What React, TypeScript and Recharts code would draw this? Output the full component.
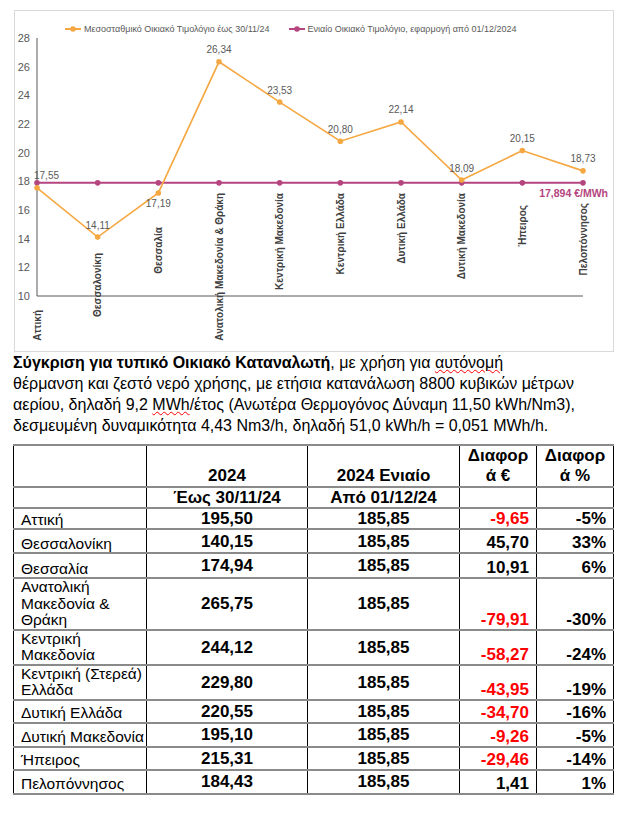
import { LineChart, Line, XAxis, YAxis, Legend, LabelList } from "recharts";

// chart values (€/MWh)
const REGIONS = [
  "Αττική",
  "Θεσσαλονίκη",
  "Θεσσαλία",
  "Ανατολική Μακεδονία & Θράκη",
  "Κεντρική Μακεδονία",
  "Κεντρική Ελλάδα",
  "Δυτική Ελλάδα",
  "Δυτική Μακεδονία",
  "Ήπειρος",
  "Πελοπόννησος",
];
const AVG_TARIFF = [17.55, 14.11, 17.19, 26.34, 23.53, 20.8, 22.14, 18.09, 20.15, 18.73];
const UNIFIED_TARIFF = 17.894;
const Y_TICKS = [10, 12, 14, 16, 18, 20, 22, 24, 26, 28];

// table values (€ / year)
const TABLE_REGIONS = [
  "Αττική",
  "Θεσσαλονίκη",
  "Θεσσαλία",
  "Ανατολική\nΜακεδονία &\nΘράκη",
  "Κεντρική\nΜακεδονία",
  "Κεντρική (Στερεά)\nΕλλάδα",
  "Δυτική Ελλάδα",
  "Δυτική Μακεδονία",
  "Ήπειρος",
  "Πελοπόννησος",
];
const COST_OLD = [195.5, 140.15, 174.94, 265.75, 244.12, 229.8, 220.55, 195.1, 215.31, 184.43];
const COST_UNIFIED = [185.85, 185.85, 185.85, 185.85, 185.85, 185.85, 185.85, 185.85, 185.85, 185.85];
const DIFF_EUR = [-9.65, 45.7, 10.91, -79.91, -58.27, -43.95, -34.7, -9.26, -29.46, 1.41];
const DIFF_PCT = [-5, 33, 6, -30, -24, -19, -16, -5, -14, 1];

const ORANGE = "#F5A742";
const PURPLE = "#B5457F";
const GREY = "#595959";
const FONT = "'Liberation Sans', Arial, sans-serif";

// vertical shift of each rotated region label from the axis line
const TICK_SHIFT = [14, -43, -69, -103, -103, -103, -103, -103, -91, -93];
const ROW_HEIGHTS = [21, 24, 25, 49, 35, 35, 23, 24, 23, 24];

const fmt = (v: number) => v.toFixed(2).replace(".", ",");

const chartData = REGIONS.map((region, i) => ({
  region,
  avg: AVG_TARIFF[i],
  unified: UNIFIED_TARIFF,
}));

function RegionTick(props: any) {
  const { x, y, payload } = props;
  const i = REGIONS.indexOf(payload.value);
  return (
    <text
      transform={`translate(${x},${y + TICK_SHIFT[i]}) rotate(-90)`}
      textAnchor="end"
      dominantBaseline="central"
      fontSize={10}
      fontWeight="bold"
      fill="#404040"
    >
      {payload.value}
    </text>
  );
}

function AvgLabel(props: any) {
  const { x, y, value, index } = props;
  let dx = 0;
  let dy = -12;
  let anchor = "middle";
  if (index === 0) {
    dx = -3;
    anchor = "start";
  }
  if (index === 2) dy = 11;
  return (
    <text x={x + dx} y={y + dy} textAnchor={anchor} dominantBaseline="central" fontSize={10} fill={GREY}>
      {fmt(value)}
    </text>
  );
}

function UnifiedLabel(props: any) {
  const { x, y, index } = props;
  if (index !== REGIONS.length - 1) return null;
  return (
    <text x={x + 25} y={y + 10} textAnchor="end" dominantBaseline="central" fontSize={10.5} fontWeight="bold" fill={PURPLE}>
      17,894 €/MWh
    </text>
  );
}

function Swatch({ color }: { color: string }) {
  return (
    <svg width={16} height={8} style={{ marginRight: 3 }}>
      <line x1={0} y1={4} x2={16} y2={4} stroke={color} strokeWidth={2} />
      <circle cx={8} cy={4} r={2.8} fill={color} />
    </svg>
  );
}

function LegendContent() {
  return (
    <div style={{ height: 18, display: "flex", alignItems: "center", paddingLeft: 50, fontSize: 9, color: GREY }}>
      <Swatch color={ORANGE} />
      <span>Μεσοσταθμικό Οικιακό Τιμολόγιο έως 30/11/24</span>
      <span style={{ width: 19 }} />
      <Swatch color={PURPLE} />
      <span>Ενιαίο Οικιακό Τιμολόγιο, εφαρμογή από 01/12/2024</span>
    </div>
  );
}

const cell: React.CSSProperties = {
  borderLeft: "1px solid #000",
  borderRight: "1px solid #000",
  borderTop: "2px solid #8a8a8a",
  borderBottom: "2px solid #8a8a8a",
  padding: "0 7px 0 7px",
  lineHeight: "16.5px",
};

const boldCell: React.CSSProperties = { ...cell, fontWeight: "bold", fontSize: 17, lineHeight: "19px" };

export default function App() {
  return (
    <div style={{ fontFamily: FONT }}>
      <div style={{ marginLeft: 6, marginTop: 2, width: 598, height: 340, border: "1px solid #D9D9D9" }}>
        <LineChart width={598} height={340} data={chartData} margin={{ top: 9, right: 30, bottom: 0, left: 0 }}>
          <Legend
            verticalAlign="top"
            height={18}
            content={<LegendContent />}
            wrapperStyle={{ left: 0, width: 598 }}
          />
          <XAxis
            dataKey="region"
            scale="point"
            padding={{ left: 0, right: 0 }}
            interval={0}
            height={55}
            tickLine={false}
            tickSize={0}
            tickMargin={0}
            axisLine={{ stroke: GREY }}
            tick={<RegionTick />}
          />
          <YAxis
            domain={[10, 28]}
            ticks={Y_TICKS}
            width={22}
            tickLine={false}
            tickSize={0}
            tickMargin={7}
            axisLine={{ stroke: GREY }}
            tick={{ fontSize: 11, fill: GREY }}
          />
          <Line
            dataKey="unified"
            stroke={PURPLE}
            strokeWidth={2}
            dot={{ r: 2.8, fill: PURPLE, stroke: "none" }}
            isAnimationActive={false}
          >
            <LabelList dataKey="unified" content={<UnifiedLabel />} />
          </Line>
          <Line
            dataKey="avg"
            stroke={ORANGE}
            strokeWidth={1.6}
            dot={{ r: 2.8, fill: ORANGE, stroke: "none" }}
            isAnimationActive={false}
          >
            <LabelList dataKey="avg" content={<AvgLabel />} />
          </Line>
        </LineChart>
      </div>

      <p style={{ margin: "0 0 0 5px", fontSize: 16, lineHeight: "21px" }}>
        <b>Σύγκριση για τυπικό Οικιακό Καταναλωτή</b>, με χρήση για{" "}
        <span style={{ textDecoration: "underline wavy red", textDecorationThickness: 1 }}>αυτόνομή</span>
        <br />
        θέρμανση και ζεστό νερό χρήσης, με ετήσια κατανάλωση 8800 κυβικών μέτρων
        <br />
        αερίου, δηλαδή 9,2{" "}
        <span style={{ textDecoration: "underline wavy red", textDecorationThickness: 1 }}>MWh</span>/έτος (Ανωτέρα
        Θερμογόνος Δύναμη 11,50 kWh/Nm3),
        <br />
        δεσμευμένη δυναμικότητα 4,43 Nm3/h, δηλαδή 51,0 kWh/h = 0,051 MWh/h.
      </p>

      <table
        style={{
          marginTop: 8,
          marginLeft: 5,
          width: 600,
          borderCollapse: "collapse",
          tableLayout: "fixed",
          fontSize: 15.5,
        }}
      >
        <colgroup>
          <col style={{ width: 133 }} />
          <col style={{ width: 161 }} />
          <col style={{ width: 152 }} />
          <col style={{ width: 77 }} />
          <col style={{ width: 77 }} />
        </colgroup>
        <tbody>
          <tr style={{ height: 42 }}>
            <td style={cell} />
            <td style={{ ...boldCell, textAlign: "center", verticalAlign: "bottom", paddingBottom: 1 }}>2024</td>
            <td style={{ ...boldCell, textAlign: "center", verticalAlign: "bottom", paddingBottom: 1 }}>2024 Ενιαίο</td>
            <td style={{ ...boldCell, textAlign: "center", verticalAlign: "bottom", lineHeight: "20px", padding: 0 }}>
              Διαφορ
              <br />ά €
            </td>
            <td style={{ ...boldCell, textAlign: "center", verticalAlign: "bottom", lineHeight: "20px", padding: 0 }}>
              Διαφορ
              <br />ά %
            </td>
          </tr>
          <tr style={{ height: 20 }}>
            <td style={cell} />
            <td style={{ ...boldCell, textAlign: "center" }}>Έως 30/11/24</td>
            <td style={{ ...boldCell, textAlign: "center" }}>Από 01/12/24</td>
            <td style={cell} />
            <td style={cell} />
          </tr>
          {TABLE_REGIONS.map((name, i) => (
            <tr key={name} style={{ height: ROW_HEIGHTS[i] }}>
              <td style={{ ...cell, paddingRight: 0, verticalAlign: "bottom", whiteSpace: "pre-line" }}>{name}</td>
              <td style={{ ...boldCell, textAlign: "center", verticalAlign: "middle" }}>{fmt(COST_OLD[i])}</td>
              <td style={{ ...boldCell, textAlign: "center", verticalAlign: "middle" }}>{fmt(COST_UNIFIED[i])}</td>
              <td
                style={{
                  ...boldCell,
                  textAlign: "right",
                  verticalAlign: "bottom",
                  color: DIFF_EUR[i] < 0 ? "#FF0000" : "#000",
                }}
              >
                {fmt(DIFF_EUR[i])}
              </td>
              <td style={{ ...boldCell, textAlign: "right", verticalAlign: "bottom" }}>{DIFF_PCT[i]}%</td>
            </tr>
          ))}
        </tbody>
      </table>
    </div>
  );
}
